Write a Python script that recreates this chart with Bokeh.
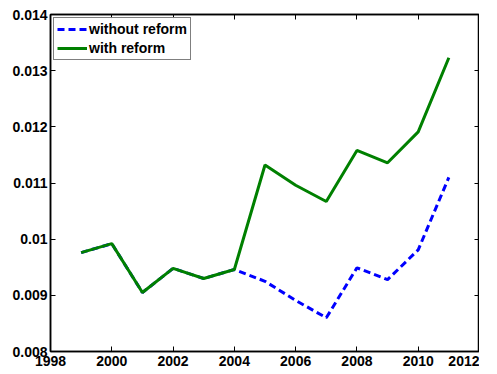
from bokeh.plotting import figure
from bokeh.models import (LinearAxis, FixedTicker, CustomJSTickFormatter, Legend,
                          LegendItem, Range1d)
from bokeh.embed import file_html
from bokeh.resources import INLINE

years = [1999, 2000, 2001, 2002, 2003, 2004, 2005, 2006, 2007, 2008, 2009, 2010, 2011]
without_reform = [0.00976, 0.00992, 0.00905, 0.00948, 0.00930, 0.00946,
                  0.00925, 0.00891, 0.00860, 0.00949, 0.00928, 0.00981, 0.01110]
with_reform = [0.00976, 0.00992, 0.00905, 0.00948, 0.00930, 0.00946,
               0.01132, 0.01096, 0.01067, 0.01158, 0.01136, 0.01191, 0.01323]
x_ticks = [1998, 2000, 2002, 2004, 2006, 2008, 2010, 2012]
y_ticks = [0.008, 0.009, 0.010, 0.011, 0.012, 0.013, 0.014]

FONT = "Liberation Sans"

p = figure(frame_width=429, frame_height=337, output_backend="svg", toolbar_location=None,
           x_range=Range1d(1998, 2012), y_range=Range1d(0.008, 0.014),
           min_border_left=50, min_border_right=0, min_border_top=14,
           min_border_bottom=0)
p.xgrid.visible = False
p.ygrid.visible = False
p.outline_line_color = "black"
p.outline_line_width = 1.5

fmt = CustomJSTickFormatter(code="return String(Number(tick.toFixed(4)));")
xfmt = CustomJSTickFormatter(code="return String(Math.round(tick));")

def style(ax, labels=True):
    ax.axis_line_color = "black"
    ax.axis_line_width = 1.5
    ax.major_tick_in = 5
    ax.major_tick_out = 0
    ax.minor_tick_line_color = None
    ax.major_tick_line_color = "black"
    ax.major_label_text_font = FONT
    ax.major_label_text_font_style = "bold"
    ax.major_label_text_font_size = "14px"
    ax.major_label_text_color = "black"
    ax.major_label_standoff = 4
    if not labels:
        ax.major_label_text_font_size = "0px"
        ax.major_label_text_color = None
        ax.major_label_standoff = 0

p.xaxis.ticker = FixedTicker(ticks=x_ticks)
p.xaxis.formatter = xfmt
p.yaxis.ticker = FixedTicker(ticks=y_ticks)
p.yaxis.formatter = fmt
style(p.xaxis[0])
style(p.yaxis[0])
p.yaxis[0].major_label_standoff = 3

top = LinearAxis(ticker=FixedTicker(ticks=x_ticks))
right = LinearAxis(ticker=FixedTicker(ticks=y_ticks))
style(top, False)
style(right, False)
p.add_layout(top, "above")
p.add_layout(right, "right")

r1 = p.line(years, without_reform, line_color="#0000ff", line_width=3, line_dash="7 4")
r2 = p.line(years, with_reform, line_color="#008000", line_width=3)

legend = Legend(items=[LegendItem(label="without reform", renderers=[r1]),
                       LegendItem(label="with reform", renderers=[r2])],
                location="top_left")
legend.label_text_font = FONT
legend.label_text_font_style = "bold"
legend.label_text_font_size = "14px"
legend.label_text_color = "black"
legend.border_line_color = "black"
legend.border_line_width = 1
legend.glyph_width = 30
legend.glyph_height = 14
legend.label_height = 14
legend.spacing = 3
legend.padding = 3
legend.margin = 3
legend.label_standoff = 2
p.add_layout(legend)

open("out.html", "w").write(file_html(p, INLINE))
